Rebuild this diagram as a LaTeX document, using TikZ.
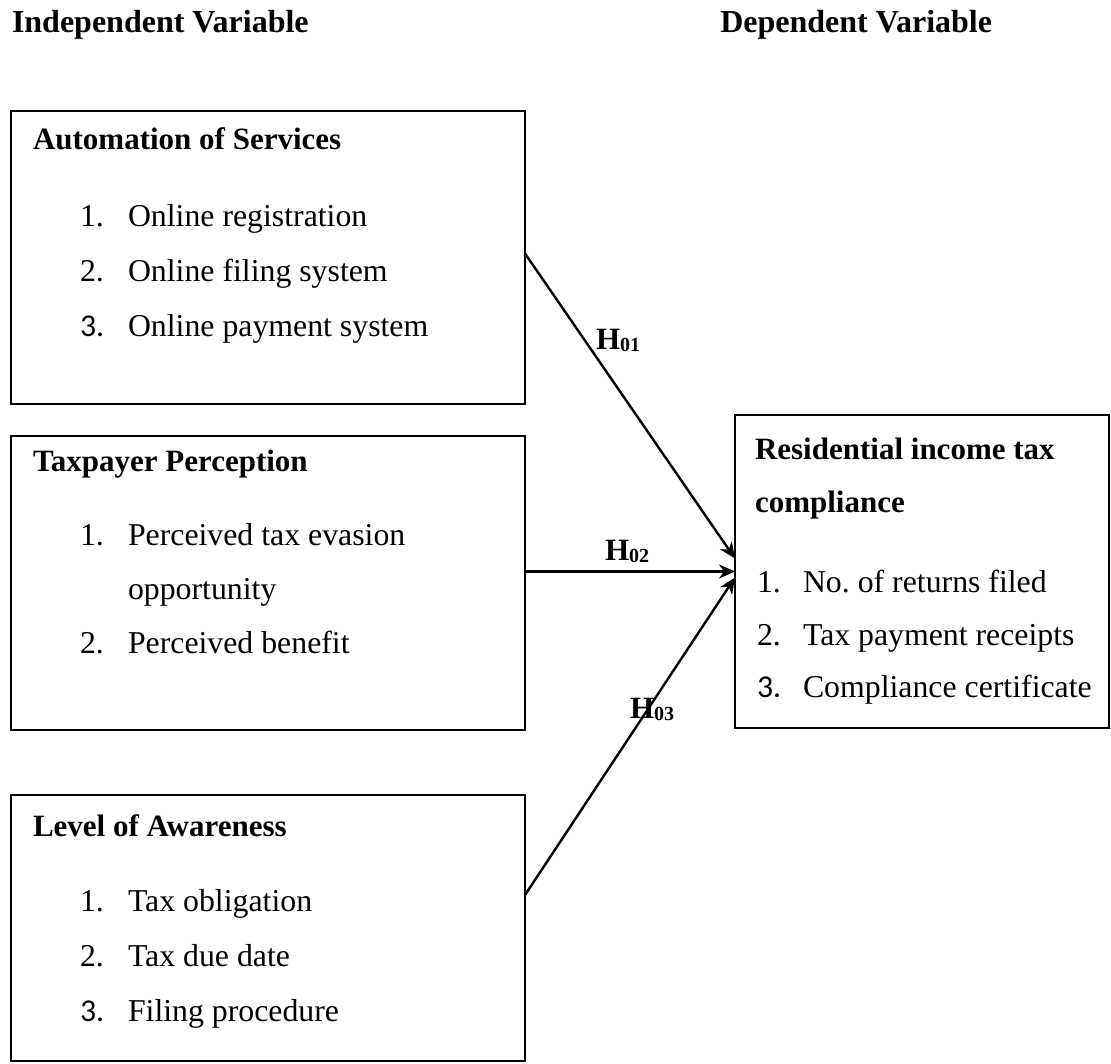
\documentclass[tikz,border=0pt]{standalone}
\usepackage{fontspec}
\setmainfont{Liberation Serif}
\newfontfamily\numfont{Carlito}
\usetikzlibrary{arrows.meta}
\begin{document}
\frenchspacing
\begin{tikzpicture}[x=0.5pt,y=-0.5pt,
  every node/.style={inner sep=0pt, outer sep=0pt},
  box/.style={draw, line width=0.7pt, rectangle, anchor=north west},
  txt/.style={anchor=base west, font=\fontsize{15.9}{18}\selectfont},
  head/.style={anchor=base west, font=\fontsize{15.5}{18}\selectfont\bfseries},
  toph/.style={anchor=base west, font=\fontsize{16}{18}\selectfont\bfseries},
  link/.style={line width=1.2pt, -{Stealth[length=8pt,width=7pt,inset=2.5pt]}},
  hlab/.style={anchor=base west, font=\fontsize{15.5}{18}\selectfont\bfseries}]
\newcommand\hsub[1]{H\raisebox{-1pt}{\fontsize{10}{12}\selectfont #1}}
\useasboundingbox (0,0) rectangle (1111,1063);

% headers
\node[toph] (hind) at (12,33) {Independent Variable};
\node[toph, anchor=base east] (hdep) at (992,33) {Dependent Variable};

% boxes
\node[box, minimum width=257pt, minimum height=146.5pt] (auto) at (11,111) {};
\node[box, minimum width=257pt, minimum height=147pt] (tax) at (11,436) {};
\node[box, minimum width=257pt, minimum height=133pt] (aware) at (11,795) {};
\node[box, minimum width=187pt, minimum height=156.5pt] (dep) at (735,415) {};

% box 1
\node[head] (t1) at (33,150) {Automation of Services};
\node[txt] (n11) at (80,227) {1.};
\node[txt] (i11) at (128,227) {Online registration};
\node[txt] (n12) at (80,282) {2.};
\node[txt] (i12) at (128,282) {Online filing system};
\node[txt] (n13) at (80,337) {\numfont 3.};
\node[txt] (i13) at (128,337) {Online payment system};

% box 2
\node[head] (t2) at (33,471) {Taxpayer Perception};
\node[txt] (n21) at (80,545) {1.};
\node[txt] (i21) at (128,545) {Perceived tax evasion};
\node[txt] (i21b) at (128,599) {opportunity};
\node[txt] (n22) at (80,653) {2.};
\node[txt] (i22) at (128,653) {Perceived benefit};

% box 3
\node[head] (t3) at (33,836) {Level of Awareness};
\node[txt] (n31) at (80,911) {1.};
\node[txt] (i31) at (128,911) {Tax obligation};
\node[txt] (n32) at (80,966) {2.};
\node[txt] (i32) at (128,966) {Tax due date};
\node[txt] (n33) at (80,1021) {\numfont 3.};
\node[txt] (i33) at (128,1021) {Filing procedure};

% box 4
\node[head] (t4a) at (755,459) {Residential income tax};
\node[head] (t4b) at (755,512) {compliance};
\node[txt] (n41) at (757,592) {1.};
\node[txt] (i41) at (803,592) {No. of returns filed};
\node[txt] (n42) at (757,645) {2.};
\node[txt] (i42) at (803,645) {Tax payment receipts};
\node[txt] (n43) at (757,697) {\numfont 3.};
\node[txt] (i43) at (803,697) {Compliance certificate};

% connectors
\draw[link] ([yshift=2pt]auto.east) -- ([yshift=6.5pt]dep.west);
\draw[link] (tax.east |- dep.west) -- (dep.west);
\draw[link] ([yshift=16.5pt]aware.east) -- ([yshift=-3pt]dep.west);

% labels
\node[hlab] (h1) at (596,350) {\hsub{01}};
\node[hlab] (h2) at (605,560) {\hsub{02}};
\node[hlab] (h3) at (630,718) {\hsub{03}};
\end{tikzpicture}
\end{document}
